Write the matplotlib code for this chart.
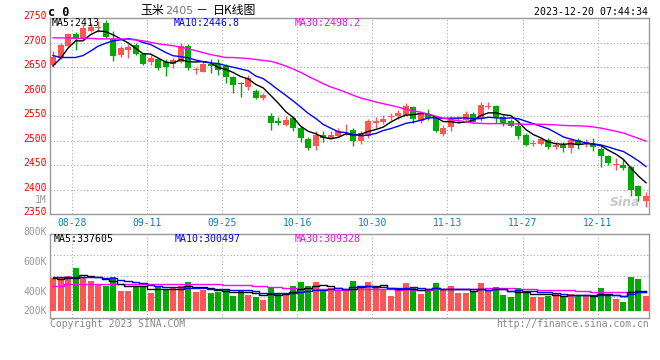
import numpy as np
import pandas as pd
import matplotlib
matplotlib.use("Agg")
import matplotlib.pyplot as plt
from matplotlib.transforms import ScaledTranslation

plt.rcParams['font.family'] = ['DejaVu Sans Mono', 'Noto Sans CJK SC']

# daily K-line of corn 2405, oldest first
opens = [2655, 2668, 2693.5, 2718, 2708, 2725, 2730, 2741, 2708, 2675,
         2685, 2695, 2677, 2661, 2667, 2661, 2657, 2660, 2694, 2645,
         2641, 2656, 2657, 2652, 2630, 2618, 2610, 2602, 2588, 2551,
         2540, 2532, 2546, 2527, 2504, 2489, 2512, 2506, 2510, 2519,
         2522, 2500, 2510, 2537, 2538, 2548, 2551, 2553, 2568, 2540,
         2555, 2547, 2514, 2528, 2545, 2543, 2555, 2544, 2568, 2571,
         2548, 2540, 2530, 2512, 2493, 2494, 2502, 2488, 2492, 2486,
         2502, 2496, 2494, 2483, 2468, 2451, 2451, 2446, 2408, 2378]
highs = [2683, 2699, 2720, 2723, 2738, 2741, 2745, 2746, 2724, 2694,
         2697, 2699, 2680, 2676, 2670, 2667, 2670, 2699, 2697, 2651,
         2661, 2667, 2667, 2656, 2633, 2620, 2634, 2605, 2598, 2556,
         2549, 2551, 2551, 2530, 2508, 2521, 2519, 2521, 2526, 2534,
         2526, 2521, 2545, 2548, 2553, 2557, 2563, 2578, 2572, 2560,
         2565, 2549, 2532, 2551, 2551, 2560, 2559, 2580, 2580, 2574,
         2553, 2544, 2543, 2515, 2502, 2506, 2505, 2498, 2498, 2505,
         2505, 2503, 2505, 2488, 2471, 2464, 2462, 2449, 2410, 2396]
lows = [2650, 2666, 2692, 2685, 2706, 2722, 2723, 2710, 2663, 2672,
        2668, 2675, 2654, 2655, 2644, 2632, 2648, 2658, 2644, 2636,
        2640, 2638, 2634, 2617, 2597, 2589, 2604, 2585, 2583, 2522,
        2532, 2530, 2519, 2498, 2481, 2481, 2498, 2503, 2508, 2512,
        2489, 2493, 2506, 2526, 2535, 2543, 2545, 2551, 2536, 2537,
        2543, 2517, 2509, 2519, 2536, 2539, 2536, 2541, 2564, 2536,
        2530, 2528, 2503, 2489, 2489, 2492, 2483, 2483, 2478, 2475,
        2483, 2488, 2480, 2447, 2451, 2440, 2440, 2387, 2378, 2364]
closes = [2670, 2695.5, 2718, 2707, 2729.5, 2733, 2733, 2712, 2674, 2689,
          2692, 2677, 2657, 2670, 2649, 2651, 2665, 2694, 2648, 2646,
          2656, 2653, 2644, 2630, 2614, 2615, 2629, 2588, 2594, 2537,
          2537, 2542, 2527, 2506, 2485, 2512, 2506, 2512, 2520, 2520,
          2500, 2515, 2540, 2540, 2545, 2551, 2556, 2570, 2545, 2557,
          2547, 2520, 2527, 2544, 2546, 2555, 2539, 2573, 2572, 2546,
          2536, 2530, 2510, 2492, 2495, 2503, 2488, 2492, 2486, 2502,
          2493, 2498, 2488, 2469, 2455, 2453, 2445, 2400, 2387, 2387]
# volume in thousands of lots, as read against the 400K/600K/800K labels
volumes = [507, 503, 518, 575, 510, 487, 464, 451, 512, 419,
           419, 444, 451, 406, 444, 424, 439, 451, 480, 410,
           424, 406, 410, 433, 385, 424, 392, 379, 356, 439,
           397, 397, 451, 478, 451, 478, 415, 435, 419, 415,
           485, 451, 478, 439, 424, 385, 419, 471, 444, 397,
           415, 471, 422, 451, 404, 404, 417, 471, 419, 444,
           390, 377, 437, 402, 377, 377, 385, 402, 381, 397,
           381, 388, 383, 437, 385, 363, 343, 512, 498, 383]

# MA values at the left edge, where the window holds too few days
ma5_head = [2653, 2668, 2689, 2704]
ma10_head = [2674, 2670, 2670, 2670, 2674, 2683, 2693, 2699, 2704]
ma30_head = [2710, 2710, 2710, 2709, 2709, 2709, 2708, 2708, 2708, 2708,
             2707, 2706, 2704, 2701, 2698, 2696, 2694, 2691, 2688, 2684,
             2680, 2676, 2673, 2670, 2670, 2669, 2668, 2666, 2664]
vma5_head = [502, 501, 503, 505]
vma10_head = [510, 510, 512, 513, 514, 512, 511, 508, 505]
vma30_head = [453, 453, 462, 462, 462, 462, 462, 462, 462, 462,
              462, 462, 462, 462, 462, 462, 462, 462, 466, 466,
              466, 466, 466, 460, 455, 455, 455, 448, 448]

date_idx = [3, 13, 23, 33, 43, 53, 63, 73]
date_labels = ['08-28', '09-11', '09-25', '10-16', '10-30', '11-13', '11-27', '12-11']
price_ticks = [2350, 2400, 2450, 2500, 2550, 2600, 2650, 2700, 2750]
vol_ticks = [400, 600, 800]

RED = '#ff5555'
GREEN = '#00aa00'
GRID = '#aaaaaa'
FRAME = '#999999'
W, H = 660, 360


def px(x, y):
    # pixel position (from top-left) -> figure fraction
    return x / W, 1 - y / H


def moving_avg(values, n, head):
    ma = pd.Series(values, dtype=float).rolling(n).mean().to_numpy()
    ma[:len(head)] = head
    return ma


def lift_labels(labels, fig, dy_px):
    for lab in labels:
        lab.set_transform(lab.get_transform() + ScaledTranslation(0, dy_px / 100, fig.dpi_scale_trans))


x = np.arange(len(closes))
o = np.array(opens)
c = np.array(closes)
up = c >= o
colors = np.where(up, RED, GREEN)

fig = plt.figure(figsize=(6.6, 3.6), dpi=100)
ax = fig.add_axes([50 / W, 1 - 214.3 / H, 599 / W, 196 / H])
axv = fig.add_axes([50 / W, 1 - 318.3 / H, 599 / W, 84 / H])

# ---- price panel
ax.vlines(x, lows, highs, colors=colors, linewidth=1, zorder=3)
body = np.maximum(np.abs(c - o), 1.2)
ax.bar(x, body, bottom=np.minimum(o, c), width=0.8, color=colors, linewidth=0, zorder=4)
ax.plot(x, moving_avg(closes, 5, ma5_head), color='black', lw=1, zorder=5)
ax.plot(x, moving_avg(closes, 10, ma10_head), color='#0000ff', lw=1, zorder=5)
ax.plot(x, moving_avg(closes, 30, ma30_head), color='#ff00ff', lw=1, zorder=5)

ax.set_xlim(-0.4, len(closes) - 0.6)
ax.set_ylim(price_ticks[0], price_ticks[-1])
ax.set_yticks(price_ticks)
ax.tick_params(axis='y', length=0, pad=2.4, labelcolor='#ff0000', labelsize=7)
lift_labels(ax.get_yticklabels(), fig, 3)
grid_x = [i - 0.45 for i in date_idx]
ax.set_xticks(grid_x)
ax.set_xticklabels(date_labels)
ax.tick_params(axis='x', length=0, pad=2.6, labelcolor='#0a7fc4', labelsize=7)
for p in price_ticks[1:-1]:
    ax.axhline(p, color=GRID, lw=0.8, ls=(0, (1, 2)), zorder=1)
for gx in grid_x:
    ax.axvline(gx, color=GRID, lw=0.8, ls=(0, (1, 2)), zorder=1)
ax.text(0.985, 0.06, 'Sina', transform=ax.transAxes, ha='right', va='center',
        color='#c8c8c8', fontsize=9, fontstyle='italic', fontweight='bold',
        family='DejaVu Sans', zorder=2)

# ---- volume panel
vol_base = 284
vol = np.array(volumes)
axv.bar(x, vol - vol_base, bottom=vol_base, width=0.8, color=colors, linewidth=0, zorder=3)
axv.plot(x, moving_avg(volumes, 5, vma5_head), color='black', lw=1, drawstyle='steps-mid', zorder=5)
axv.plot(x, moving_avg(volumes, 10, vma10_head), color='#0000ff', lw=1, drawstyle='steps-mid', zorder=5)
axv.plot(x, moving_avg(volumes, 30, vma30_head), color='#ff00ff', lw=1, drawstyle='steps-mid', zorder=4)
axv.set_xlim(ax.get_xlim())
vtop = vol_ticks[-1]
vbot = vtop - 84 / 76.4 * (vtop - vol_base)
axv.set_ylim(vbot, vtop)
axv.set_yticks(vol_ticks)
axv.set_yticklabels([f'{v}K' for v in vol_ticks])
axv.tick_params(axis='y', length=0, pad=2.4, labelcolor='#999999', labelsize=7)
lift_labels(axv.get_yticklabels(), fig, 3)
axv.text(-0.006, vol_base, '200K', transform=axv.get_yaxis_transform(), ha='right', va='center',
         color='#999999', fontsize=7)
axv.set_xticks([])
for f in (0.25, 0.5, 0.75):
    axv.axhline(vbot + f * (vtop - vbot), color=GRID, lw=0.8, ls=(0, (1, 2)), zorder=1)
for gx in grid_x:
    axv.axvline(gx, color=GRID, lw=0.8, ls=(0, (1, 2)), zorder=1)

for a in (ax, axv):
    for s in a.spines.values():
        s.set_color(FRAME)
        s.set_linewidth(1)

# ---- texts
fig.text(*px(48, 12), 'c 0', fontsize=8.5, fontweight='bold', va='center')
fig.text(*px(140, 10.5), '玉米', family='Noto Sans CJK SC', fontsize=8.6, va='center')
fig.text(*px(165.5, 10.5), '2405', family='DejaVu Sans', color='#777777', fontsize=8, va='center')
fig.text(*px(195, 10.5), '－', family='Noto Sans CJK SC', fontsize=8.6, va='center')
fig.text(*px(213, 10.5), '日K线图', family='Noto Sans CJK SC', fontsize=8.6, va='center')
fig.text(*px(648, 11.7), '2023-12-20 07:44:34', ha='right', va='center', fontsize=7.1)
fig.text(*px(46.7, 200), '1M', ha='right', va='center', fontsize=7, color='#999999')

fig.text(*px(52, 22.5), 'MA5:2413', va='center', fontsize=7.1, color='black')
fig.text(*px(174, 22.5), 'MA10:2446.8', va='center', fontsize=7.1, color='#0000ff')
fig.text(*px(295, 22.5), 'MA30:2498.2', va='center', fontsize=7.1, color='#ff00ff')
fig.text(*px(54, 239), 'MA5:337605', va='center', fontsize=7.1, color='black')
fig.text(*px(175, 239), 'MA10:300497', va='center', fontsize=7.1, color='#0000ff')
fig.text(*px(295, 239), 'MA30:309328', va='center', fontsize=7.1, color='#ff00ff')

fig.text(*px(50, 324), 'Copyright 2023 SINA.COM', va='center', fontsize=7, color='#888888')
fig.text(*px(649, 324), 'http://finance.sina.com.cn', ha='right', va='center', fontsize=7, color='#888888')

fig.savefig('out.png', dpi=100)
